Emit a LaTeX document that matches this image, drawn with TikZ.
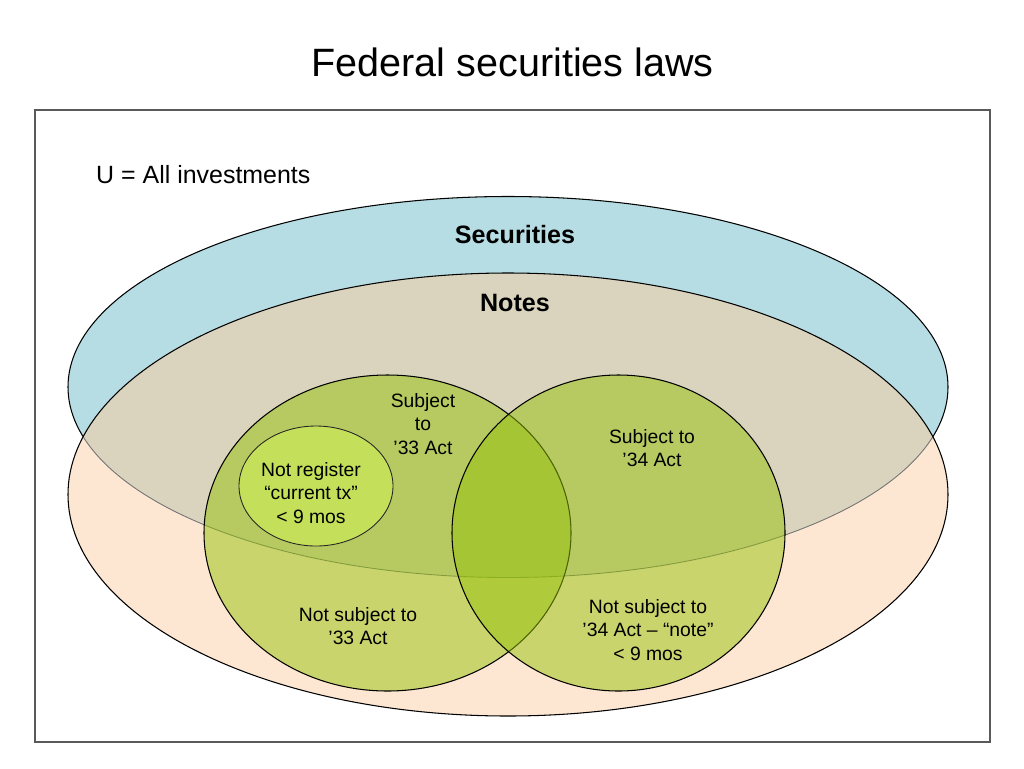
\documentclass[tikz,border=0pt]{standalone}
\usepackage{fontspec}
\setmainfont{Liberation Sans}

\definecolor{secblue}{RGB}{183,221,228}
\definecolor{notepeach}{RGB}{253,231,211}
\definecolor{overlaptan}{RGB}{218,212,190}
\definecolor{actgreen}{RGB}{150,194,8}
\definecolor{txgreen}{RGB}{196,224,90}

\begin{document}
\begin{tikzpicture}[x=0.02cm, y=-0.02cm,
  settext/.style={font=\fontsize{14.3}{17}\selectfont\bfseries},
  regtext/.style={font=\fontsize{11}{13.3}\selectfont, align=center},
  actset/.style={fill=actgreen, fill opacity=0.5, draw=black, draw opacity=1, line width=0.6pt}]

\useasboundingbox (0,0) rectangle (1024,768);
\fill[white] (0,0) rectangle (1024,768);

\node(title)[anchor=base, font=\fontsize{22.5}{27}\selectfont] at (512.7,76.7) {Federal securities laws};

\draw[black!65, line width=0.8pt] (35,110) rectangle (990,742);

\node(univ)[anchor=base west, font=\fontsize{14.2}{17}\selectfont] at (90,183.3) {U = All investments};

\fill[secblue] (508,387) ellipse [x radius=440, y radius=190.5];
\draw[black, line width=0.6pt] (508,387) ellipse [x radius=440, y radius=190.5];

\fill[notepeach] (508,494.5) ellipse [x radius=440, y radius=221.5];
\begin{scope}
  \clip (508,494.5) ellipse [x radius=440, y radius=221.5];
  \fill[overlaptan] (508,387) ellipse [x radius=440, y radius=190.5];
  \draw[black!55, line width=0.5pt] (508,387) ellipse [x radius=440, y radius=190.5];
\end{scope}
\draw[black, line width=0.6pt] (508,494.5) ellipse [x radius=440, y radius=221.5];

\node(sec)[settext] at (515,235) {Securities};
\node(notes)[settext] at (515,303) {Notes};

\draw[actset] (387.5,533) ellipse [x radius=183.5, y radius=158];
\draw[actset] (618.5,533) ellipse [x radius=166.5, y radius=158];

\draw[fill=txgreen, draw=black!85, line width=0.5pt] (316,486) ellipse [x radius=77, y radius=60];

\node(sub33)[regtext] at (423,424) {Subject\\to\\’33 Act};
\node(notreg)[regtext] at (311,493) {Not register\\“current tx”\\< 9 mos};
\node(nsub33)[regtext] at (358,626) {Not subject to\\’33 Act};
\node(sub34)[regtext] at (652,448) {Subject to\\’34 Act};
\node(nsub34)[regtext] at (648,630) {Not subject to\\’34 Act – “note”\\< 9 mos};

\end{tikzpicture}
\end{document}
